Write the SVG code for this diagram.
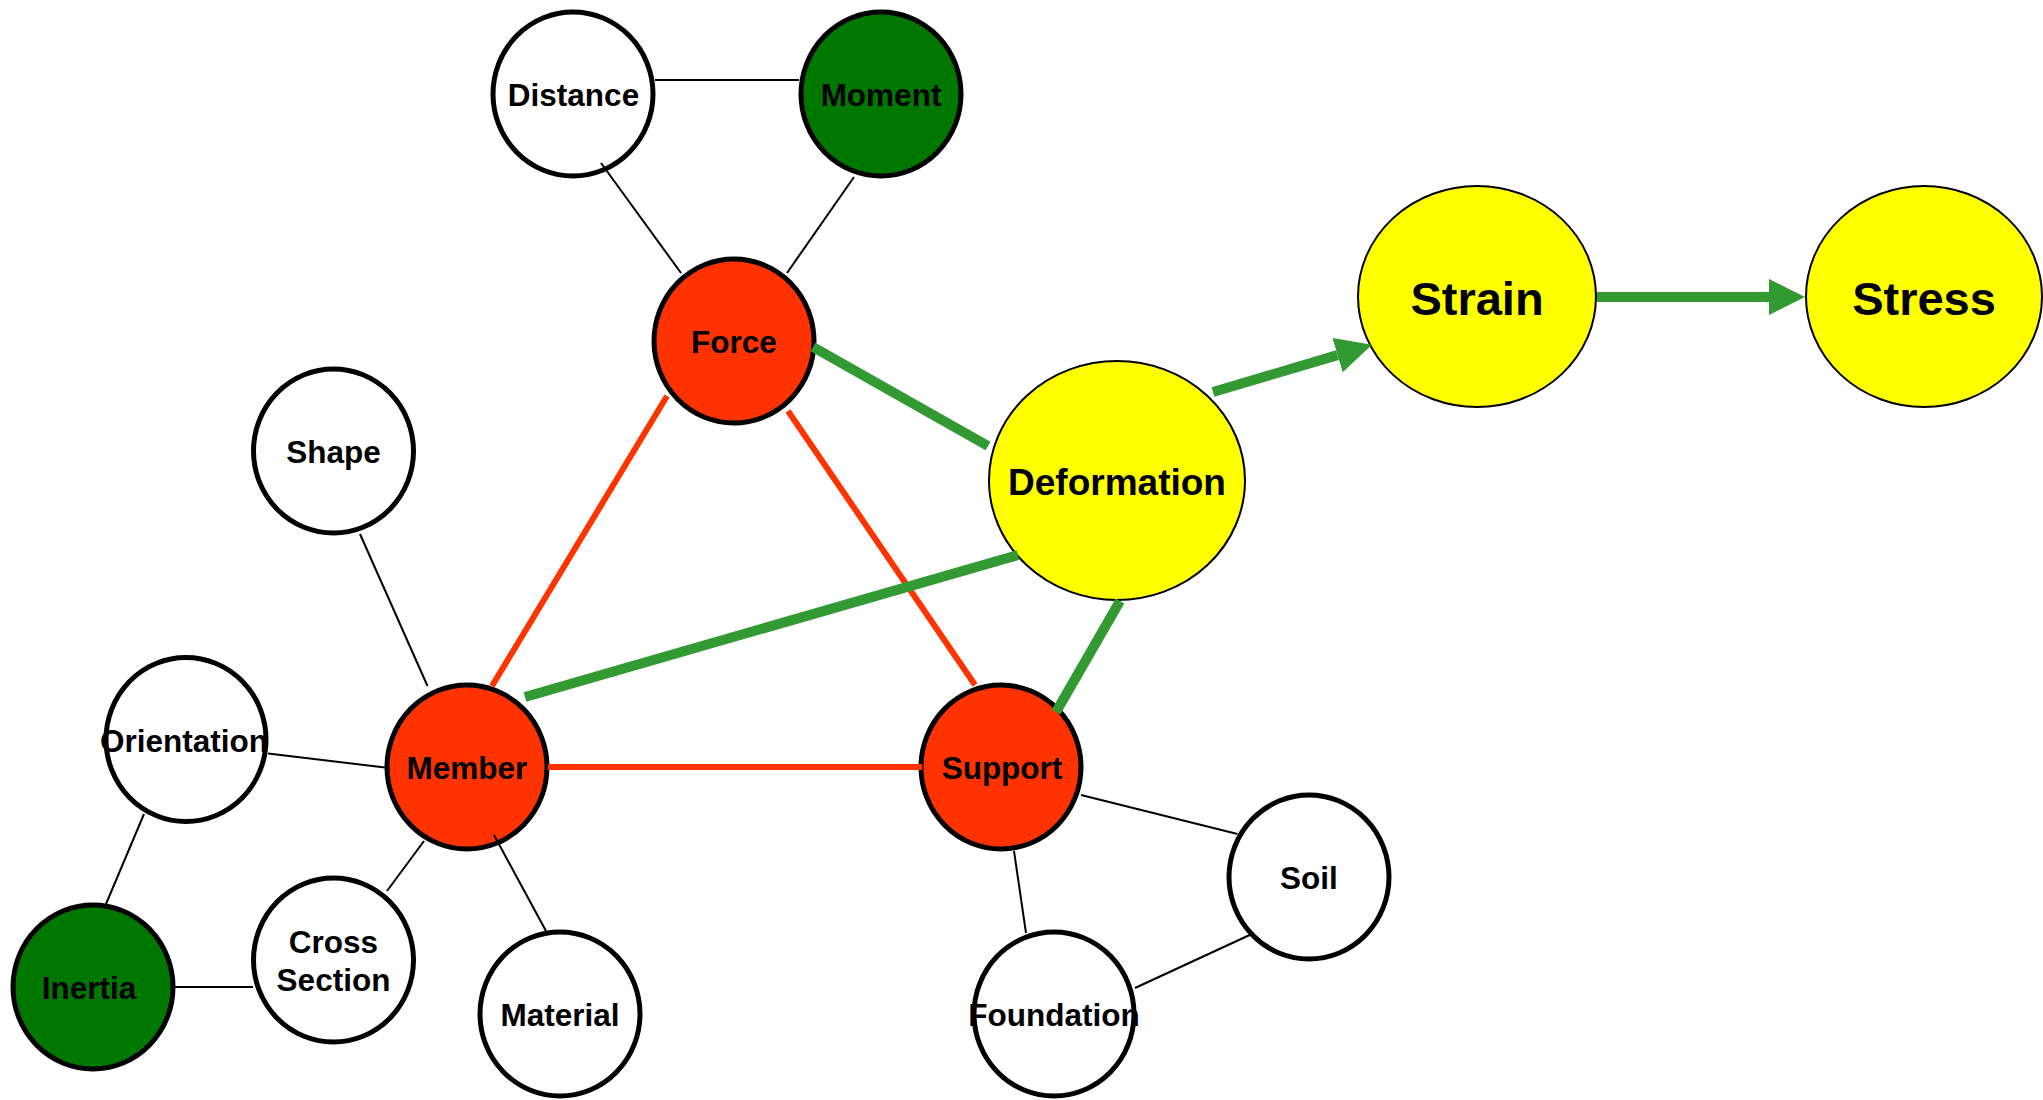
<svg xmlns="http://www.w3.org/2000/svg" width="2043" height="1100" viewBox="0 0 2043 1100">
<style>
text{font-family:"Liberation Sans",Arial,sans-serif;font-weight:bold;fill:#000;text-anchor:middle}
.t{font-size:31.5px}
.big{font-size:47px}
.n{stroke:#000;stroke-width:5}
.w{fill:#fff}
.r{fill:#FF3300}
.g{fill:#007800}
.y{fill:#FFFF00;stroke:#000;stroke-width:2}
.thin{stroke:#000;stroke-width:2;fill:none}
.red{stroke:#FF3300;stroke-width:6;fill:none}
.grn{stroke:#339933;stroke-width:10;fill:none}
</style>
<defs>
<marker id="arr" markerUnits="userSpaceOnUse" markerWidth="36" markerHeight="36" viewBox="0 0 36 36" refX="0" refY="18" orient="auto">
<path d="M0,0 L36,18 L0,36 z" fill="#339933"/>
</marker>
</defs>
<rect width="2043" height="1100" fill="#fff"/>
<g id="nodes">
<g id="distance"><ellipse class="n w" cx="573" cy="94" rx="80" ry="82"/><text class="t" x="573.5" y="106">Distance</text></g>
<g id="moment"><ellipse class="n g" cx="881" cy="94" rx="80" ry="82"/><text class="t" x="881" y="106">Moment</text></g>
<g id="force"><ellipse class="n r" cx="734" cy="341" rx="80" ry="82"/><text class="t" x="734" y="353">Force</text></g>
<g id="shape"><ellipse class="n w" cx="333.5" cy="451" rx="80" ry="82"/><text class="t" x="333.5" y="463">Shape</text></g>
<g id="deformation"><ellipse class="y" cx="1117" cy="480.5" rx="128" ry="119.5"/><text x="1117" y="495" style="font-size:37px">Deformation</text></g>
<g id="strain"><ellipse class="y" cx="1477" cy="296.5" rx="119" ry="110.5"/><text class="big" x="1477" y="315">Strain</text></g>
<g id="stress"><ellipse class="y" cx="1924" cy="296.5" rx="118" ry="110.5"/><text class="big" x="1924" y="315">Stress</text></g>
<g id="orientation"><ellipse class="n w" cx="186" cy="739.5" rx="80" ry="82"/><text class="t" x="184" y="752">Orientation</text></g>
<g id="member"><ellipse class="n r" cx="467" cy="767" rx="80" ry="82"/><text class="t" x="467" y="779">Member</text></g>
<g id="support"><ellipse class="n r" cx="1001" cy="767" rx="80" ry="82"/><text class="t" x="1002" y="779">Support</text></g>
<g id="soil"><ellipse class="n w" cx="1309" cy="877" rx="80" ry="82"/><text class="t" x="1309" y="889">Soil</text></g>
<g id="inertia"><ellipse class="n g" cx="93" cy="987" rx="80" ry="82"/><text class="t" x="89" y="999">Inertia</text></g>
<g id="cross-section"><ellipse class="n w" cx="333.5" cy="960" rx="80" ry="82"/><text class="t" x="333.5" y="953">Cross</text><text class="t" x="333.5" y="991">Section</text></g>
<g id="material"><ellipse class="n w" cx="560" cy="1014" rx="80" ry="82"/><text class="t" x="560" y="1026">Material</text></g>
<g id="foundation"><ellipse class="n w" cx="1054" cy="1014" rx="80" ry="82"/><text class="t" x="1054" y="1026">Foundation</text></g>
</g>
<g id="connectors">
<line class="thin" x1="655" y1="80" x2="799" y2="80"/>
<line class="thin" x1="601" y1="163" x2="681" y2="273"/>
<line class="thin" x1="854" y1="177" x2="787" y2="273"/>
<line class="thin" x1="360" y1="534" x2="427.5" y2="686"/>
<line class="thin" x1="268" y1="753.5" x2="385" y2="767.5"/>
<line class="thin" x1="144" y1="814" x2="106" y2="904"/>
<line class="thin" x1="175" y1="987" x2="253" y2="987"/>
<line class="thin" x1="424" y1="841" x2="387" y2="891"/>
<line class="thin" x1="494" y1="835" x2="546" y2="931"/>
<line class="thin" x1="1081" y1="795" x2="1237.5" y2="834"/>
<line class="thin" x1="1014" y1="851" x2="1026" y2="933"/>
<line class="thin" x1="1254" y1="933" x2="1135" y2="988"/>
<line class="red" x1="667" y1="396" x2="492" y2="686"/>
<line class="red" x1="788" y1="411" x2="975" y2="685"/>
<line class="red" x1="548" y1="767" x2="922" y2="767"/>
<line class="grn" x1="813" y1="347" x2="988" y2="446"/>
<line class="grn" x1="525" y1="697" x2="1018" y2="555"/>
<line class="grn" x1="1120" y1="601" x2="1056" y2="712"/>
<line class="grn" x1="1213" y1="392" x2="1337.5" y2="355.1" marker-end="url(#arr)"/>
<line class="grn" x1="1597" y1="297" x2="1769" y2="297" marker-end="url(#arr)"/>
</g>
</svg>
